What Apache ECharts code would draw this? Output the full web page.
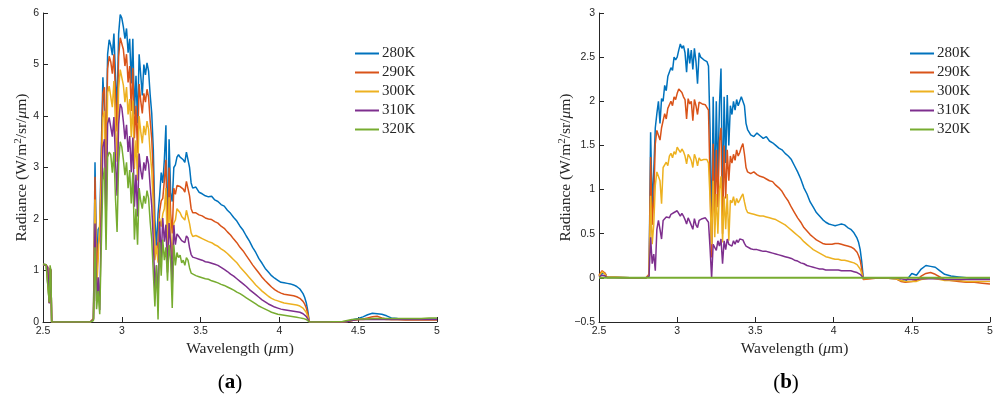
<!DOCTYPE html>
<html>
<head>
<meta charset="utf-8">
<script src="https://cdn.jsdelivr.net/npm/echarts@6/dist/echarts.min.js"></script>
<style>
  html, body { margin: 0; padding: 0; background: #ffffff; }
  #chart { width: 998px; height: 401px; }
</style>
</head>
<body>
<div id="chart"></div>
<script>
// Wavelength grid (µm) shared by the spectral curves
const wavelength = [
  2.50, 2.51, 2.52, 2.53, 2.54, 2.545, 2.55, 2.555, 2.70,
  2.80, 2.81, 2.82, 2.83, 2.84, 2.85, 2.86, 2.87, 2.88, 2.89,
  2.90, 2.91, 2.92, 2.93, 2.94, 2.95, 2.96, 2.97, 2.98, 2.99,
  3.00, 3.01, 3.02, 3.03, 3.04, 3.05, 3.06, 3.07, 3.08, 3.09,
  3.10, 3.11, 3.12, 3.13, 3.14, 3.15, 3.16, 3.17, 3.18, 3.19,
  3.20, 3.21, 3.22, 3.23, 3.24, 3.25, 3.26, 3.27, 3.28, 3.29,
  3.30, 3.31, 3.32, 3.33, 3.34, 3.35, 3.36, 3.37, 3.38, 3.39,
  3.40, 3.41, 3.42, 3.43, 3.44, 3.45,
  3.47, 3.49, 3.51, 3.53, 3.55, 3.57, 3.59, 3.61, 3.63, 3.65,
  3.67, 3.69, 3.71, 3.73, 3.75, 3.77, 3.79, 3.81, 3.83, 3.85,
  3.87, 3.89, 3.91, 3.93, 3.95, 3.97, 3.99, 4.01, 4.03, 4.05,
  4.07, 4.09, 4.11, 4.13,
  4.15, 4.16, 4.17, 4.18, 4.19, 4.20,
  4.30, 4.40, 4.43, 4.46, 4.50, 4.53, 4.56, 4.59, 4.62, 4.65, 4.68, 4.71, 4.75, 4.80, 4.85, 4.90, 4.95, 5.00
];

const seriesNames = ['280K', '290K', '300K', '310K', '320K'];

// (a) radiance, W/m^2/sr/µm
const radA280 = [
  1.12, 1.12, 1.11, 1.08, 0.38, 1.05, 1.0, 0, 0,
  0, 0.02, 0.05, 3.1, 1.05, 1.8, 1.85, 3.36, 4.75, 4.75,
  3.43, 5.2, 5.48, 5.37, 5.18, 5.6, 4.78, 4.1, 5.6, 5.97,
  5.9, 5.73, 5.5, 5.7, 5.23, 5.5, 4.63, 5.5, 4.03, 4.78,
  3.86, 5.2, 4.8, 4.4, 5.0, 4.8, 5.03, 4.87, 4.41, 4.05,
  3.35, 1.98, 1.48, 2.1, 2.45, 2.9, 2.7, 3.15, 3.82, 1.6,
  3.55, 2.5, 2.34, 3.0, 3.05, 3.2, 3.25, 3.2, 3.17, 3.15,
  3.1, 3.3, 3.27, 3.0, 2.7, 2.6,
  2.62, 2.52, 2.49, 2.45, 2.43, 2.44, 2.37, 2.34, 2.28, 2.25,
  2.17, 2.11, 2.03, 1.96, 1.86, 1.78, 1.67, 1.57, 1.45, 1.35,
  1.23, 1.14, 1.04, 0.97, 0.9, 0.85, 0.81, 0.77, 0.76, 0.75,
  0.74, 0.72, 0.69, 0.64,
  0.55, 0.48, 0.38, 0.22, 0, 0,
  0, 0, 0.01, 0.04, 0.07, 0.1, 0.14, 0.17, 0.16, 0.15, 0.12, 0.08, 0.07, 0.06, 0.06, 0.06, 0.06, 0.06
];
const radA290 = [
  1.12, 1.11, 1.11, 1.07, 0.37, 1.05, 1.0, 0, 0,
  0, 0.03, 0.07, 2.82, 0.85, 1.5, 1.67, 3.17, 4.43, 4.56,
  3.1, 4.92, 5.16, 5.05, 4.82, 5.2, 4.4, 3.7, 5.15, 5.52,
  5.49, 5.29, 4.97, 5.2, 4.65, 4.97, 4.1, 4.93, 3.57, 4.2,
  3.28, 4.62, 4.3, 4.05, 4.44, 4.27, 4.52, 4.36, 3.91, 3.55,
  2.85, 1.4, 1.33, 1.57, 2.15, 2.35, 2.4, 2.75, 3.15, 1.3,
  3.0, 2.1, 1.72, 2.6, 2.48, 2.65, 2.65, 2.63, 2.6, 2.58,
  2.52, 2.73, 2.72, 2.45, 2.2, 2.12,
  2.12, 2.08, 2.06, 2.02, 2.0, 1.99, 1.95, 1.92, 1.86, 1.82,
  1.75, 1.69, 1.61, 1.54, 1.45, 1.38, 1.29, 1.2, 1.11, 1.03,
  0.95, 0.87, 0.8, 0.74, 0.68, 0.63, 0.59, 0.56, 0.54, 0.53,
  0.52, 0.51, 0.49, 0.46,
  0.4, 0.35, 0.28, 0.16, 0, 0,
  0, 0, 0.01, 0.03, 0.05, 0.06, 0.08, 0.1, 0.11, 0.08, 0.06, 0.05, 0.05, 0.04, 0.04, 0.04, 0.04, 0.04
];
const radA300 = [
  1.11, 1.11, 1.1, 1.07, 0.37, 1.04, 0.99, 0, 0,
  0, 0.02, 0.06, 2.38, 0.63, 1.2, 1.2, 2.7, 3.97, 4.1,
  2.24, 4.45, 4.58, 4.56, 4.17, 4.68, 3.81, 3.11, 4.53, 4.9,
  4.88, 4.6, 4.27, 4.56, 4.03, 4.33, 3.59, 4.3, 2.97, 3.53,
  2.75, 4.0, 3.7, 3.47, 3.81, 3.63, 3.9, 3.74, 3.3, 2.94,
  2.25, 1.2, 1.48, 1.15, 2.01, 1.85, 2.1, 2.2, 2.6, 1.2,
  2.42, 1.75, 1.22, 1.92, 1.98, 2.2, 2.17, 2.12, 2.05, 2.05,
  1.98, 2.17, 2.15, 1.91, 1.73, 1.66,
  1.68, 1.65, 1.62, 1.59, 1.56, 1.54, 1.5, 1.47, 1.42, 1.38,
  1.33, 1.27, 1.21, 1.15, 1.07, 1.0, 0.93, 0.86, 0.79, 0.72,
  0.66, 0.6, 0.55, 0.5, 0.46, 0.43, 0.41, 0.39, 0.37, 0.36,
  0.35, 0.34, 0.33, 0.31,
  0.27, 0.24, 0.19, 0.11, 0, 0,
  0, 0, 0.01, 0.03, 0.05, 0.05, 0.06, 0.06, 0.06, 0.06, 0.05, 0.05, 0.05, 0.05, 0.05, 0.05, 0.05, 0.05
];
const radA310 = [
  1.11, 1.11, 1.1, 1.06, 0.36, 1.04, 0.99, 0, 0,
  0, 0.02, 0.05, 1.91, 0.41, 0.87, 0.23, 2.05, 3.4, 3.55,
  1.84, 3.85, 3.97, 3.94, 3.6, 3.98, 3.12, 2.45, 3.84, 4.23,
  4.16, 3.89, 3.55, 3.83, 3.3, 3.61, 2.91, 3.58, 2.24, 2.86,
  2.05, 3.27, 2.95, 2.77, 3.1, 2.94, 3.22, 3.06, 2.63, 2.26,
  1.58, 0.64, 1.1, 0.43, 1.95, 1.21, 2.02, 1.56, 1.89, 0.96,
  1.92, 1.52, 0.71, 1.88, 1.5, 1.71, 1.67, 1.68, 1.58, 1.6,
  1.54, 1.67, 1.63, 1.44, 1.31, 1.26,
  1.24, 1.22, 1.2, 1.17, 1.16, 1.14, 1.12, 1.1, 1.06, 1.02,
  0.98, 0.93, 0.89, 0.84, 0.79, 0.74, 0.69, 0.63, 0.58, 0.53,
  0.48, 0.43, 0.39, 0.35, 0.32, 0.29, 0.27, 0.25, 0.24, 0.23,
  0.22, 0.21, 0.2, 0.19,
  0.16, 0.14, 0.11, 0.06, 0, 0,
  0, 0, 0.01, 0.03, 0.05, 0.05, 0.05, 0.05, 0.05, 0.05, 0.05, 0.05, 0.05, 0.05, 0.05, 0.05, 0.05, 0.05
];
const radA320 = [
  1.12, 1.12, 1.11, 1.08, 0.38, 1.1, 1.0, 0, 0,
  0, 0.01, 0.03, 1.45, 0.25, 0.6, 0.15, 1.5, 2.75, 3.0,
  1.4, 3.2, 3.3, 3.25, 2.9, 3.3, 2.4, 1.75, 3.1, 3.5,
  3.4, 3.15, 2.85, 3.1, 2.6, 2.95, 2.3, 2.9, 1.6, 2.2,
  1.5, 2.6, 2.35, 2.2, 2.45, 2.3, 2.55, 2.4, 1.95, 1.6,
  0.95, 0.3, 1.1, 0.05, 1.55, 0.9, 1.6, 1.2, 1.45, 0.8,
  1.5, 1.2, 0.27, 1.5, 1.1, 1.35, 1.25, 1.3, 1.15, 1.2,
  1.1, 1.25, 1.2, 1.05, 0.95, 0.92,
  0.9, 0.88, 0.86, 0.84, 0.83, 0.8, 0.78, 0.76, 0.73, 0.71,
  0.68, 0.65, 0.62, 0.58, 0.55, 0.51, 0.47, 0.43, 0.39, 0.35,
  0.31, 0.28, 0.25, 0.22, 0.19, 0.17, 0.15, 0.14, 0.13, 0.12,
  0.11, 0.1, 0.09, 0.08,
  0.07, 0.06, 0.05, 0.03, 0, 0,
  0, 0.01, 0.03, 0.05, 0.06, 0.06, 0.06, 0.07, 0.07, 0.07, 0.07, 0.07, 0.07, 0.07, 0.07, 0.07, 0.08, 0.08
];

// (b) radiance relative to the 320K curve
const radB280 = [
  0.02, 0.03, 0.05, 0.07, 0.05, 0.03, 0.01, 0, 0,
  0, 0.01, 0.02, 1.65, 0.8, 1.2, 1.7, 1.86, 2.0, 1.75,
  2.03, 2.0, 2.18, 2.12, 2.28, 2.3, 2.38, 2.35, 2.5, 2.47,
  2.5, 2.58, 2.65, 2.6, 2.63, 2.55, 2.33, 2.6, 2.43, 2.58,
  2.36, 2.6, 2.45, 2.2, 2.55, 2.5, 2.48, 2.47, 2.46, 2.45,
  2.4, 1.68, 0.38, 2.05, 0.9, 2.0, 1.1, 1.95, 2.37, 0.8,
  2.05, 1.3, 2.07, 1.5, 1.95, 1.85, 2.0, 1.9, 2.02, 1.95,
  2.0, 2.05, 2.07, 1.95, 1.75, 1.68,
  1.62, 1.6, 1.64, 1.61, 1.58, 1.6, 1.55, 1.53, 1.5, 1.47,
  1.45, 1.41, 1.38, 1.34, 1.27, 1.2, 1.12, 1.02, 0.95, 0.86,
  0.8, 0.74, 0.7, 0.66, 0.63, 0.61, 0.6, 0.59, 0.6, 0.61,
  0.6, 0.57, 0.55, 0.51,
  0.45, 0.4, 0.32, 0.18, 0.0, -0.02,
  0, -0.01, -0.03, -0.04, 0.05, 0.03, 0.1, 0.14, 0.13, 0.12, 0.08, 0.04, 0.02, 0.01, 0, -0.01, -0.01, -0.01
];
const radB290 = [
  0.03, 0.05, 0.08, 0.08, 0.05, 0.03, 0.01, 0, 0,
  0, 0.02, 0.04, 1.37, 0.6, 0.9, 1.52, 1.67, 1.68, 1.56,
  1.7, 1.72, 1.86, 1.8, 1.92, 1.9, 2.0, 1.95, 2.05, 2.02,
  2.09, 2.14, 2.12, 2.1, 2.05, 2.02, 1.8, 2.03, 1.97, 2.0,
  1.78, 2.02, 1.95, 1.85, 1.99, 1.97, 1.97, 1.96, 1.96, 1.95,
  1.9, 1.1, 0.23, 1.52, 0.6, 1.45, 0.8, 1.55, 1.7, 0.5,
  1.5, 0.9, 1.45, 1.1, 1.38, 1.3, 1.4, 1.33, 1.45, 1.38,
  1.42, 1.48, 1.52, 1.4, 1.25, 1.2,
  1.18, 1.2, 1.17, 1.15, 1.14, 1.12, 1.1, 1.09, 1.05, 1.02,
  0.98, 0.92, 0.87, 0.8, 0.74, 0.68, 0.63, 0.57, 0.53, 0.49,
  0.46, 0.43, 0.41, 0.39, 0.38, 0.38, 0.38, 0.39, 0.39, 0.38,
  0.37, 0.36, 0.35, 0.33,
  0.29, 0.25, 0.2, 0.1, -0.02, -0.03,
  0, -0.01, -0.04, -0.05, -0.04, -0.03, 0.02, 0.05, 0.06, 0.04, 0.01, -0.02, -0.03, -0.04, -0.05, -0.05, -0.06, -0.07
];
const radB300 = [
  0.02, 0.04, 0.07, 0.06, 0.04, 0.02, 0.01, 0, 0,
  0, 0.01, 0.03, 0.93, 0.38, 0.6, 1.05, 1.2, 1.22, 1.1,
  0.84, 1.25, 1.28, 1.31, 1.27, 1.38, 1.41, 1.36, 1.43, 1.4,
  1.48, 1.45, 1.42, 1.46, 1.43, 1.38, 1.29, 1.4, 1.37, 1.33,
  1.25, 1.4, 1.35, 1.27, 1.36, 1.33, 1.35, 1.34, 1.35, 1.34,
  1.3, 0.9, 0.38, 1.1, 0.46, 0.95, 0.5, 1.0, 1.15, 0.4,
  0.92, 0.55, 0.95, 0.42, 0.88, 0.85, 0.92, 0.82, 0.9, 0.85,
  0.88, 0.92, 0.95, 0.86, 0.78, 0.74,
  0.73, 0.72, 0.71, 0.7, 0.7, 0.69, 0.68, 0.67, 0.66, 0.64,
  0.62, 0.6, 0.57, 0.54, 0.51, 0.48, 0.45, 0.41, 0.38, 0.35,
  0.32, 0.3, 0.28, 0.26, 0.24, 0.23, 0.22, 0.21, 0.21, 0.2,
  0.2, 0.19, 0.18, 0.17,
  0.15, 0.13, 0.1, 0.05, -0.01, -0.02,
  0, -0.01, -0.03, -0.04, -0.04, -0.04, -0.02, -0.01, 0, -0.01, -0.02, -0.03, -0.03, -0.03, -0.04, -0.04, -0.04, -0.04
];
const radB310 = [
  0.01, 0.02, 0.03, 0.03, 0.02, 0.01, 0, 0, 0,
  0, 0.01, 0.02, 0.46, 0.16, 0.27, 0.08, 0.55, 0.65, 0.55,
  0.44, 0.65, 0.67, 0.69, 0.7, 0.68, 0.72, 0.7, 0.74, 0.73,
  0.76, 0.74, 0.7, 0.73, 0.7, 0.66, 0.61, 0.68, 0.64, 0.66,
  0.55, 0.67, 0.6, 0.57, 0.65, 0.64, 0.67, 0.66, 0.68, 0.66,
  0.63, 0.34, 0.0, 0.38, 0.4, 0.31, 0.42, 0.36, 0.44, 0.16,
  0.42, 0.32, 0.44, 0.38, 0.4, 0.36, 0.42, 0.38, 0.43, 0.4,
  0.44, 0.42, 0.43, 0.39, 0.36, 0.34,
  0.33, 0.32, 0.32, 0.31, 0.3, 0.3, 0.29, 0.28, 0.27, 0.26,
  0.25, 0.24, 0.23, 0.22, 0.2, 0.19, 0.17, 0.16, 0.14, 0.13,
  0.12, 0.11, 0.1, 0.1, 0.09, 0.09, 0.09, 0.09, 0.09, 0.08,
  0.08, 0.08, 0.08, 0.07,
  0.06, 0.05, 0.04, 0.02, 0, -0.01,
  0, 0, -0.01, -0.02, -0.02, -0.02, -0.01, -0.01, -0.01, -0.01, -0.01, -0.02, -0.02, -0.02, -0.02, -0.02, -0.02, -0.02
];
// 320K is the reference curve in (b): flat zero across the band
const wavelengthB320 = [2.5, 5.0];
const radB320 = [0, 0];

// Axis ticks
const xTicks = { min: 2.5, max: 5, step: 0.5 };
const yTicksA = { min: 0, max: 6, step: 1 };
const yTicksB = { min: -0.5, max: 3, step: 0.5 };

const colors = ['#0072BD', '#D95319', '#EDB120', '#7E2F8E', '#77AC30'];
const ink = '#262626';
const sansFont = '"Liberation Sans", Arial, Helvetica, sans-serif';
const serifFont = '"Liberation Serif", "Times New Roman", serif';

function toPairs(xs, ys) {
  return ys.map((v, i) => [xs[i], v]);
}

function minusFormat(v) {
  return v < 0 ? '\u2212' + String(Math.abs(v)) : String(v);
}

function makeXAxis(gridIndex) {
  return {
    type: 'value', gridIndex: gridIndex,
    min: xTicks.min, max: xTicks.max, interval: xTicks.step,
    axisLine: { show: true, onZero: false, lineStyle: { color: ink, width: 1 } },
    axisTick: { show: true, inside: true, length: 5, lineStyle: { color: ink, width: 1 } },
    axisLabel: { fontFamily: sansFont, fontSize: 10.5, color: ink, margin: 4, formatter: minusFormat },
    splitLine: { show: false },
    name: 'Wavelength ({i|\u03bc}m)',
    nameLocation: 'middle', nameGap: 19, nameMoveOverlap: false,
    nameTextStyle: {
      fontFamily: serifFont, fontSize: 15.5, color: ink,
      rich: { i: { fontFamily: serifFont, fontSize: 15.5, fontStyle: 'italic', color: ink } }
    }
  };
}

function makeYAxis(gridIndex, t, gap) {
  return {
    type: 'value', gridIndex: gridIndex,
    min: t.min, max: t.max, interval: t.step,
    axisLine: { show: true, onZero: false, lineStyle: { color: ink, width: 1 } },
    axisTick: { show: true, inside: true, length: 5, lineStyle: { color: ink, width: 1 } },
    axisLabel: { fontFamily: sansFont, fontSize: 10.5, color: ink, margin: 4, formatter: minusFormat },
    splitLine: { show: false },
    name: 'Radiance (W/m{s|2}/sr/{i|\u03bc}m)',
    nameLocation: 'middle', nameGap: gap, nameMoveOverlap: false,
    nameTextStyle: {
      fontFamily: serifFont, fontSize: 15.5, color: ink, lineHeight: 18,
      rich: {
        i: { fontFamily: serifFont, fontSize: 15.5, fontStyle: 'italic', color: ink, lineHeight: 18 },
        s: { fontFamily: serifFont, fontSize: 11, color: ink, verticalAlign: 'top', lineHeight: 18, padding: [0, 0, 8, 0] }
      }
    }
  };
}

// Legend entries drawn as short plain line segments
function makeLegend(left) {
  return {
    data: seriesNames,
    orient: 'vertical', left: left, top: 46, padding: 0,
    icon: 'path://M0,0H24V2H0Z',
    itemWidth: 24, itemHeight: 2, itemGap: 4,
    textStyle: { fontFamily: serifFont, fontSize: 15, color: ink, lineHeight: 15, padding: [0, 0, 0, -2] },
    selectedMode: false
  };
}

const curvesA = [radA280, radA290, radA300, radA310, radA320];
const curvesB = [radB280, radB290, radB300, radB310];

const series = [];
curvesA.forEach((ys, k) => {
  series.push({
    name: seriesNames[k], type: 'line', xAxisIndex: 0, yAxisIndex: 0,
    data: toPairs(wavelength, ys), symbol: 'none', color: colors[k],
    lineStyle: { width: 1.5, color: colors[k] }, animation: false
  });
});
curvesB.forEach((ys, k) => {
  series.push({
    name: seriesNames[k], type: 'line', xAxisIndex: 1, yAxisIndex: 1,
    data: toPairs(wavelength, ys), symbol: 'none', color: colors[k],
    lineStyle: { width: 1.5, color: colors[k] }, animation: false
  });
});
series.push({
  name: seriesNames[4], type: 'line', xAxisIndex: 1, yAxisIndex: 1,
  data: toPairs(wavelengthB320, radB320), symbol: 'none', color: colors[4],
  lineStyle: { width: 2, color: colors[4] }, animation: false
});

const chart = echarts.init(document.getElementById('chart'), null, { renderer: 'canvas' });
chart.setOption({
  backgroundColor: '#ffffff',
  animation: false,
  grid: [
    { left: 43, top: 13, width: 394, height: 309 },
    { left: 599, top: 13, width: 391, height: 309 }
  ],
  xAxis: [makeXAxis(0), makeXAxis(1)],
  yAxis: [makeYAxis(0, yTicksA, 12), makeYAxis(1, yTicksB, 24)],
  legend: [makeLegend(355), makeLegend(910)],
  series: series,
  graphic: [
    {
      type: 'text', x: 230, y: 383,
      style: {
        text: '({b|a})', align: 'center', verticalAlign: 'middle',
        fontFamily: serifFont, fontSize: 21, fill: '#000000',
        rich: { b: { fontFamily: serifFont, fontSize: 21, fontWeight: 'bold', fill: '#000000' } }
      }
    },
    {
      type: 'text', x: 786, y: 383,
      style: {
        text: '({b|b})', align: 'center', verticalAlign: 'middle',
        fontFamily: serifFont, fontSize: 21, fill: '#000000',
        rich: { b: { fontFamily: serifFont, fontSize: 21, fontWeight: 'bold', fill: '#000000' } }
      }
    }
  ]
});
</script>
</body>
</html>
